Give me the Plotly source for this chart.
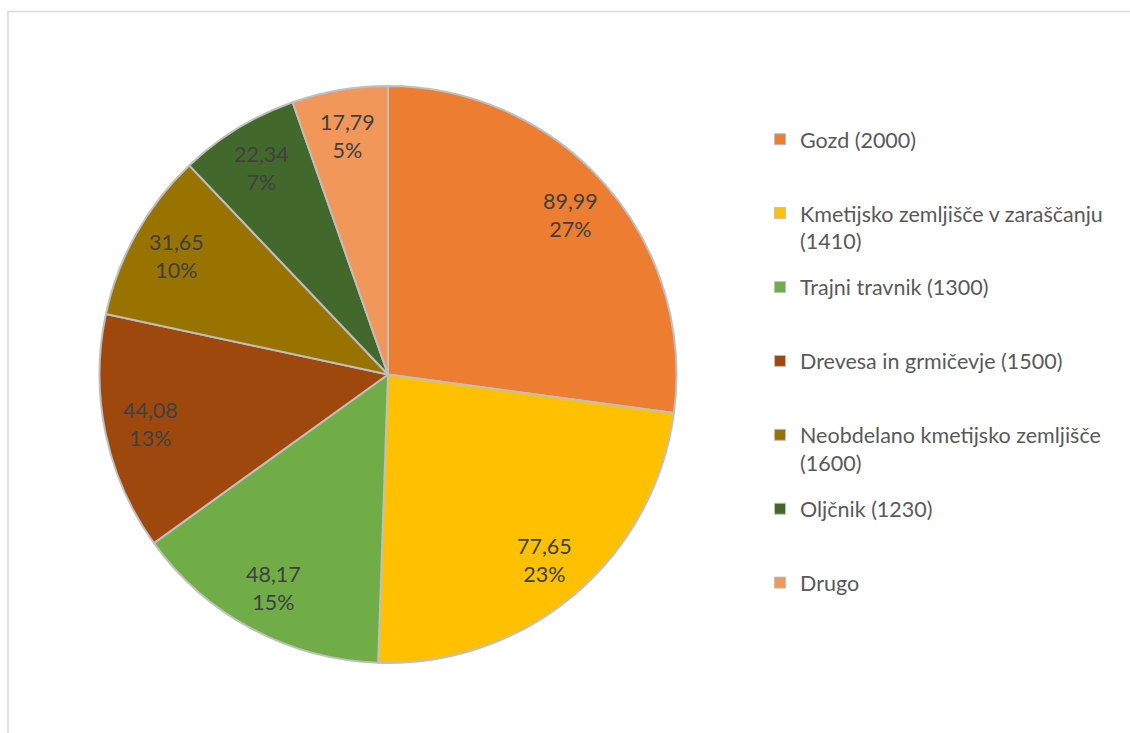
import math
import plotly.graph_objects as go

# ---- data ----
categories = [
    "Gozd (2000)",
    "Kmetijsko zemljišče v zaraščanju<br>(1410)",
    "Trajni travnik (1300)",
    "Drevesa in grmičevje (1500)",
    "Neobdelano kmetijsko zemljišče<br>(1600)",
    "Oljčnik (1230)",
    "Drugo",
]
values = [89.99, 77.65, 48.17, 44.08, 31.65, 22.34, 17.79]
colors = ["#ED7D31", "#FFC000", "#70AD47", "#9E480E", "#997300", "#43682B", "#F1975A"]

W, H = 1130, 733
CX, CY, R = 388.0, 374.5, 288.5  # pie centre / radius in pixels
FONT = "Lato"

fig = go.Figure()

fig.add_trace(go.Pie(
    labels=categories,
    values=values,
    sort=False,
    direction="clockwise",
    rotation=0,
    marker=dict(colors=colors, line=dict(color="#BFBFBF", width=2)),
    textinfo="none",
    showlegend=False,
    domain=dict(x=[(CX - R) / W, (CX + R) / W], y=[1 - (CY + R) / H, 1 - (CY - R) / H]),
))

# legend entries (one per category, so spacing can be controlled)
for lab, col in zip(categories, colors):
    text = lab if "<br>" in lab else lab + "<br> "
    fig.add_trace(go.Scatter(
        x=[None], y=[None], mode="markers", name=text, legendgroup=lab,
        marker=dict(symbol="square", size=11, color=col, line=dict(color="#BFBFBF", width=1)),
        hoverinfo="skip",
    ))

# data labels computed from the values (value + percentage)
total = sum(values)
cum = 0.0
annotations = []
for v in values:
    mid = (cum + v / 2) / total
    cum += v
    ang = math.radians(90 - 360 * mid)
    rr = 0.84 * R
    px = CX + rr * math.cos(ang)
    py = CY - rr * math.sin(ang)
    pct = round(100 * v / total)
    txt = f"{v:.2f}".replace(".", ",") + f"<br>{pct}%"
    annotations.append(dict(
        x=px / W, y=1 - py / H, xref="paper", yref="paper", text=txt,
        showarrow=False, font=dict(family=FONT, size=21.5, color="#404040"),
        xanchor="center", yanchor="middle", align="center",
    ))

fig.update_layout(
    width=W, height=H,
    margin=dict(l=0, r=0, t=0, b=0),
    paper_bgcolor="white", plot_bgcolor="white",
    xaxis=dict(visible=False), yaxis=dict(visible=False),
    annotations=annotations,
    legend=dict(
        x=0.6726, y=0.838, xanchor="left", yanchor="top",
        font=dict(family=FONT, size=21.5, color="#595959"),
        tracegroupgap=15, valign="top", bgcolor="rgba(0,0,0,0)",
    ),
    shapes=[dict(type="rect", xref="paper", yref="paper",
                 x0=8 / W, x1=1.02, y0=-0.02, y1=1 - 11.5 / H,
                 line=dict(color="#D9D9D9", width=1.5), layer="below")],
)

fig.write_html("out.html")
